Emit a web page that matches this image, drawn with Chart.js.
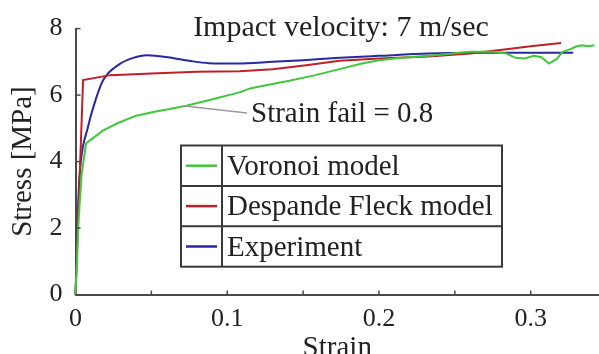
<!DOCTYPE html>
<html>
<head>
<meta charset="utf-8">
<script src="https://cdn.jsdelivr.net/npm/chart.js@4"></script>
<style>
  body { margin: 0; background: #fff; }
</style>
</head>
<body>
<canvas id="chart" width="599" height="354"></canvas>
<script>
// values
const voronoiStrain = [0, 0.001, 0.002, 0.004, 0.007, 0.012, 0.018, 0.028, 0.04, 0.052, 0.062, 0.073, 0.091, 0.108, 0.115, 0.128, 0.141, 0.158, 0.174, 0.188, 0.2, 0.215, 0.233, 0.26, 0.275, 0.284, 0.29, 0.296, 0.302, 0.307, 0.312, 0.317, 0.321, 0.325, 0.33, 0.334, 0.338, 0.342];
const voronoiStress = [0, 1.0, 2.2, 3.6, 4.55, 4.72, 4.93, 5.16, 5.38, 5.5, 5.58, 5.68, 5.88, 6.08, 6.2, 6.32, 6.43, 6.6, 6.78, 6.94, 7.05, 7.12, 7.18, 7.3, 7.3, 7.25, 7.12, 7.1, 7.18, 7.14, 6.95, 7.08, 7.3, 7.36, 7.46, 7.5, 7.47, 7.5];

const fleckStrain = [0, 0.005, 0.023, 0.05, 0.08, 0.108, 0.13, 0.152, 0.174, 0.2, 0.233, 0.26, 0.284, 0.3, 0.32];
const fleckStress = [0, 6.45, 6.6, 6.65, 6.7, 6.72, 6.78, 6.9, 7.03, 7.1, 7.16, 7.25, 7.38, 7.47, 7.57];

const expStrain = [0, 0.001, 0.002, 0.0035, 0.008, 0.0117, 0.018, 0.029, 0.038, 0.047, 0.062, 0.075, 0.088, 0.106, 0.13, 0.15, 0.174, 0.2, 0.233, 0.26, 0.292, 0.328];
const expStress = [0, 1.5, 3.0, 4.0, 5.0, 5.63, 6.43, 6.93, 7.12, 7.2, 7.13, 7.03, 6.96, 6.95, 7.0, 7.05, 7.12, 7.18, 7.25, 7.27, 7.27, 7.27];

const seriesNames = ['Voronoi model', 'Despande Fleck model', 'Experiment'];
const seriesColors = ['rgb(64, 200, 60)', 'rgb(190, 32, 42)', 'rgb(40, 40, 160)'];

const xTickMarks = [0.05, 0.1, 0.15, 0.2, 0.25, 0.3];
const yTickMarks = [2, 4, 6, 8];

const chartTitle = 'Impact velocity: 7 m/sec';
const noteText = 'Strain fail = 0.8';
const notePoint = { x: 0.0707, y: 5.68 };

const serif = 'Liberation Serif';
const axisColor = '#4a4a4a';
const textColor = '#222';

function toPoints(xs, ys) {
    return xs.map((x, i) => ({ x: x, y: ys[i] }));
}

function makeDataset(i, xs, ys, smooth) {
    return {
        label: seriesNames[i],
        data: toPoints(xs, ys),
        showLine: true,
        borderColor: seriesColors[i],
        backgroundColor: seriesColors[i],
        borderWidth: 2,
        pointRadius: 0,
        cubicInterpolationMode: smooth ? 'monotone' : 'default',
        tension: 0,
        clip: 4
    };
}

const decorations = {
    id: 'decorations',
    afterDraw(chart) {
        const ctx = chart.ctx;
        const x = chart.scales.x;
        const y = chart.scales.y;
        const bottom = y.getPixelForValue(0);
        const left = x.getPixelForValue(0);
        ctx.save();

        // inward tick marks
        ctx.strokeStyle = axisColor;
        ctx.lineWidth = 1.5;
        xTickMarks.forEach(v => {
            const px = x.getPixelForValue(v);
            ctx.beginPath();
            ctx.moveTo(px, bottom);
            ctx.lineTo(px, bottom - 4);
            ctx.stroke();
        });
        yTickMarks.forEach(v => {
            const py = y.getPixelForValue(v);
            ctx.beginPath();
            ctx.moveTo(left, py);
            ctx.lineTo(left + 5, py);
            ctx.stroke();
        });

        // title inside the plot
        ctx.fillStyle = textColor;
        ctx.font = '30px "' + serif + '"';
        ctx.textAlign = 'center';
        ctx.textBaseline = 'alphabetic';
        ctx.fillText(chartTitle, 341, 36);

        // annotation with leader line
        const sx = x.getPixelForValue(notePoint.x);
        const sy = y.getPixelForValue(notePoint.y);
        ctx.strokeStyle = '#9a9a9a';
        ctx.lineWidth = 1.5;
        ctx.beginPath();
        ctx.moveTo(sx, sy);
        ctx.lineTo(247, 113);
        ctx.stroke();
        ctx.font = '29px "' + serif + '"';
        ctx.textAlign = 'left';
        ctx.fillText(noteText, 251, 122);

        // boxed legend
        const bx = 181, by = 145.5, bw = 321, rowH = 40.4, colX = 222;
        ctx.fillStyle = '#fff';
        ctx.fillRect(bx, by, bw, rowH * 3);
        ctx.strokeStyle = '#3a3a3a';
        ctx.lineWidth = 2;
        ctx.strokeRect(bx, by, bw, rowH * 3);
        ctx.beginPath();
        ctx.moveTo(colX, by);
        ctx.lineTo(colX, by + rowH * 3);
        for (let r = 1; r < 3; r++) {
            ctx.moveTo(bx, by + rowH * r);
            ctx.lineTo(bx + bw, by + rowH * r);
        }
        ctx.stroke();
        chart.data.datasets.forEach((ds, i) => {
            const cy = by + rowH * i + rowH / 2;
            ctx.strokeStyle = ds.borderColor;
            ctx.lineWidth = 2.5;
            ctx.beginPath();
            ctx.moveTo(186, cy);
            ctx.lineTo(217, cy);
            ctx.stroke();
            ctx.fillStyle = textColor;
            ctx.fillText(ds.label, 227, cy + 9);
        });
        ctx.restore();
    }
};

const ctx = document.getElementById('chart').getContext('2d');
new Chart(ctx, {
    type: 'scatter',
    data: {
        datasets: [
            makeDataset(0, voronoiStrain, voronoiStress, false),
            makeDataset(1, fleckStrain, fleckStress, false),
            makeDataset(2, expStrain, expStress, true)
        ]
    },
    options: {
        responsive: false,
        animation: false,
        layout: {
            padding: { top: 27, left: 0, right: 0, bottom: 0 }
        },
        plugins: {
            legend: { display: false },
            tooltip: { enabled: false }
        },
        scales: {
            x: {
                type: 'linear',
                min: 0,
                max: 0.345,
                grid: { display: false, drawTicks: false },
                border: { display: true, color: axisColor, width: 2 },
                ticks: {
                    stepSize: 0.1,
                    includeBounds: false,
                    padding: 9,
                    color: textColor,
                    font: { family: serif, size: 26 },
                    maxRotation: 0
                },
                title: {
                    display: true,
                    text: 'Strain',
                    color: textColor,
                    font: { family: serif, size: 29 },
                    padding: { top: 0, bottom: -12 }
                },
                afterFit: scale => { scale.height = 59.5; }
            },
            y: {
                type: 'linear',
                min: 0,
                max: 8,
                grid: { display: false, drawTicks: false },
                border: { display: true, color: axisColor, width: 2 },
                ticks: {
                    stepSize: 2,
                    padding: 13,
                    color: textColor,
                    font: { family: serif, size: 26 }
                },
                title: {
                    display: true,
                    text: 'Stress [MPa]',
                    color: textColor,
                    font: { family: serif, size: 29 },
                    padding: { top: 6, bottom: 0 }
                },
                afterFit: scale => { scale.width = 75.5; }
            }
        }
    },
    plugins: [decorations]
});
</script>
</body>
</html>
